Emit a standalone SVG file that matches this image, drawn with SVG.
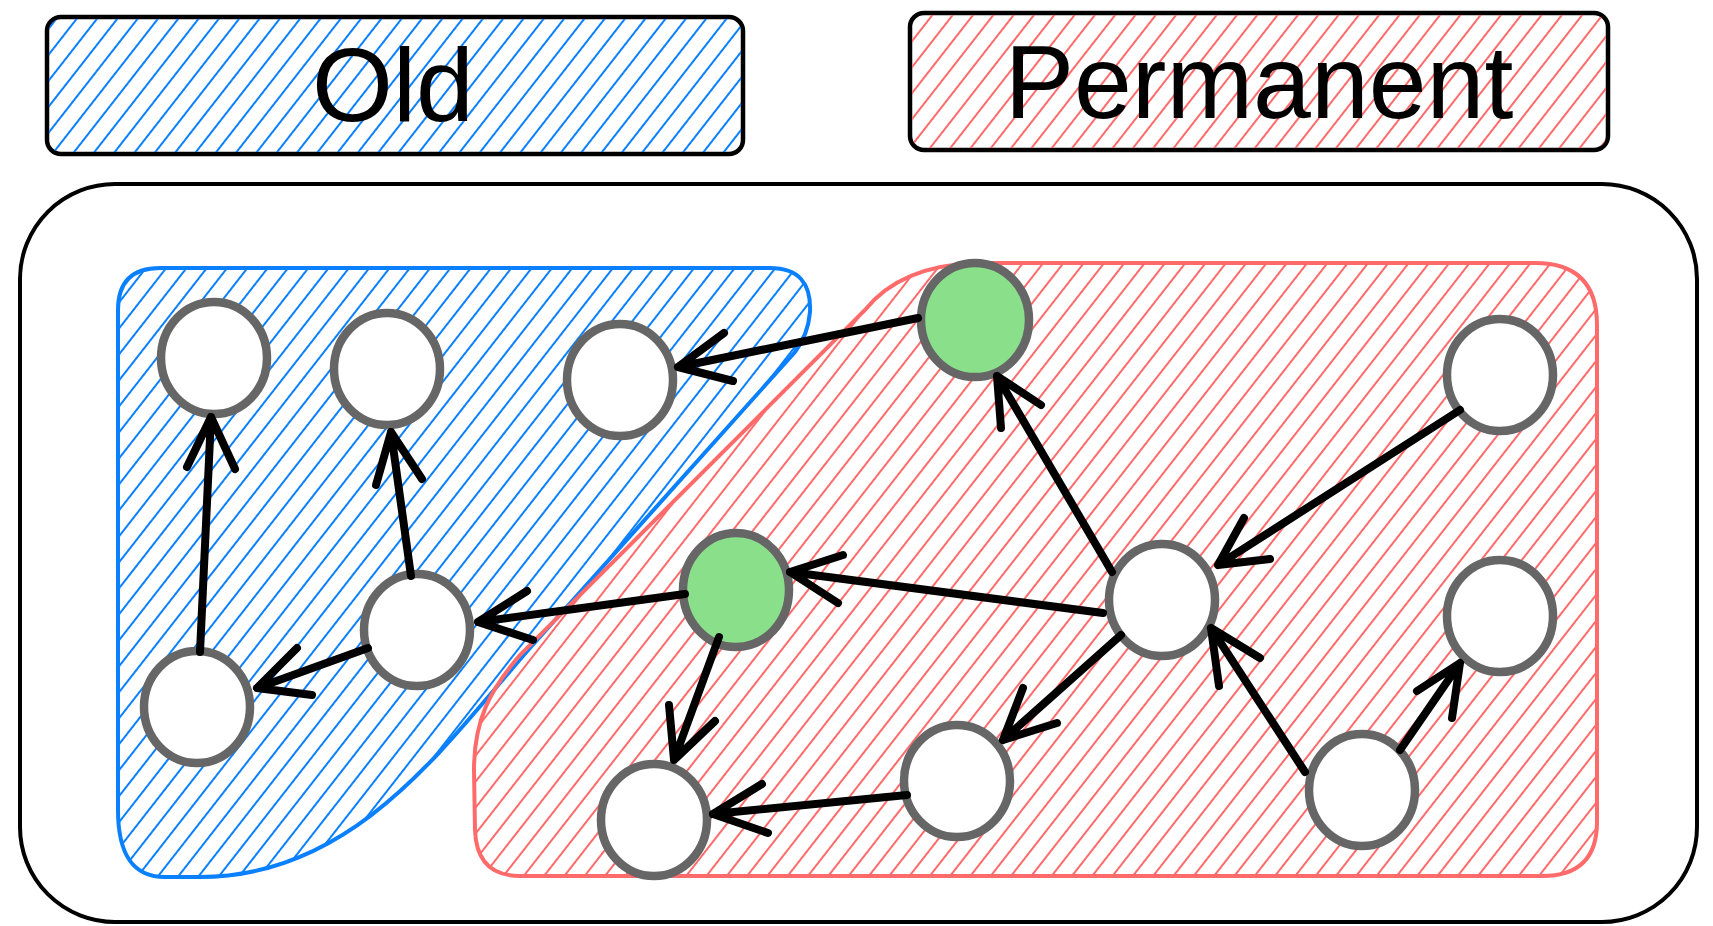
<svg xmlns="http://www.w3.org/2000/svg" width="1713" height="926" viewBox="0 0 1713 926">
<defs>
<pattern id="hBlue" patternUnits="userSpaceOnUse" width="16" height="16" patternTransform="rotate(38)">
<line x1="8" y1="0" x2="8" y2="16" stroke="#0a80ff" stroke-width="2"/>
</pattern>
<pattern id="hRed" patternUnits="userSpaceOnUse" width="16" height="16" patternTransform="rotate(38)">
<line x1="8" y1="0" x2="8" y2="16" stroke="#ff6b6b" stroke-width="2"/>
</pattern>
<style>
.lbl{fill:#ffffff;stroke:#000;stroke-width:4.5}
.lbt{font-family:"Liberation Sans",Arial,Helvetica,sans-serif;font-size:104px;fill:#000;text-anchor:middle}
.node{fill:#ffffff;stroke:#666666;stroke-width:8.5}
.green{fill:#8ae08a}
.conn path{fill:none;stroke:#000;stroke-width:8;stroke-linecap:round;stroke-linejoin:round}
</style>
</defs>
<rect width="1713" height="926" fill="#ffffff"/>

<g id="legend-old">
<rect class="lbl" x="47" y="17" width="696" height="137" rx="14"/>
<rect x="49" y="19" width="692" height="133" rx="12" fill="url(#hBlue)"/>
<text class="lbt" x="393" y="121">Old</text>
</g>
<g id="legend-permanent">
<rect class="lbl" x="910" y="13" width="698" height="137" rx="14"/>
<rect x="912" y="15" width="694" height="133" rx="12" fill="url(#hRed)"/>
<text class="lbt" x="1259" y="118">Permanent</text>
</g>

<g id="container">
<rect x="20" y="184" width="1677" height="738" rx="95" fill="none" stroke="#000" stroke-width="4"/>
</g>

<g id="region-old">
<path d="M160,268 L770,268 Q812,268 810,312 Q808,335 795,352 L530,648 C445,745 355,877 200,877 L165,877 C130,877 118,850 118,810 L118,310 Q118,268 160,268 Z" fill="url(#hBlue)" stroke="#0a80ff" stroke-width="4"/>
</g>
<g id="region-permanent">
<path d="M975,263 L1535,263 Q1597,263 1597,325 L1597,822 Q1597,876 1542,876 L520,876 C490,876 476,860 475,830 L474,770 C474,720 490,690 520,655 L865,310 Q900,266 975,263 Z" fill="url(#hRed)" stroke="#ff6b6b" stroke-width="4"/>
</g>

<g id="node-a"><ellipse class="node" cx="214" cy="358" rx="53" ry="56"/></g>
<g id="node-b"><ellipse class="node" cx="387" cy="369" rx="53" ry="56"/></g>
<g id="node-c"><ellipse class="node" cx="620" cy="380" rx="53" ry="56"/></g>
<g id="node-e"><ellipse class="node" cx="417" cy="630" rx="53" ry="56"/></g>
<g id="node-f"><ellipse class="node" cx="197" cy="707" rx="53" ry="56"/></g>
<g id="node-g1"><ellipse class="node green" cx="975" cy="320" rx="54" ry="57"/></g>
<g id="node-g2"><ellipse class="node green" cx="736" cy="590" rx="53" ry="57"/></g>
<g id="node-r1"><ellipse class="node" cx="1500" cy="375" rx="53" ry="56"/></g>
<g id="node-m"><ellipse class="node" cx="1162" cy="600" rx="53" ry="56"/></g>
<g id="node-r2"><ellipse class="node" cx="1500" cy="616" rx="53" ry="56"/></g>
<g id="node-br"><ellipse class="node" cx="1362" cy="790" rx="53" ry="56"/></g>
<g id="node-bm"><ellipse class="node" cx="957" cy="781" rx="53" ry="56"/></g>
<g id="node-bl"><ellipse class="node" cx="654" cy="820" rx="53" ry="56"/></g>

<g id="connectors" class="conn">
<path d="M200,652 L211,417 M187,467 L211,417 L235,469"/>
<path d="M411,576 L391,432 M376,485 L391,432 L422,479"/>
<path d="M368,648 L257,688 M297,648 L257,688 L312,695"/>
<path d="M685,594 L478,622 M527,591 L478,622 L533,640"/>
<path d="M918,318 L678,367 M724,333 L678,367 L733,381"/>
<path d="M1112,572 L997,376 M1001,428 L997,376 L1041,405"/>
<path d="M1460,410 L1218,565 M1244,518 L1218,565 L1270,559"/>
<path d="M1103,613 L790,572 M843,555 L790,572 L838,603"/>
<path d="M1121,635 L1003,740 M1023,688 L1003,740 L1057,723"/>
<path d="M1305,772 L1211,628 M1219,686 L1211,628 L1260,658"/>
<path d="M1400,750 L1460,663 M1417,691 L1460,663 L1452,718"/>
<path d="M907,795 L713,814 M762,784 L713,814 L768,833"/>
<path d="M719,637 L674,760 M669,705 L674,760 L715,721"/>
</g>
</svg>
